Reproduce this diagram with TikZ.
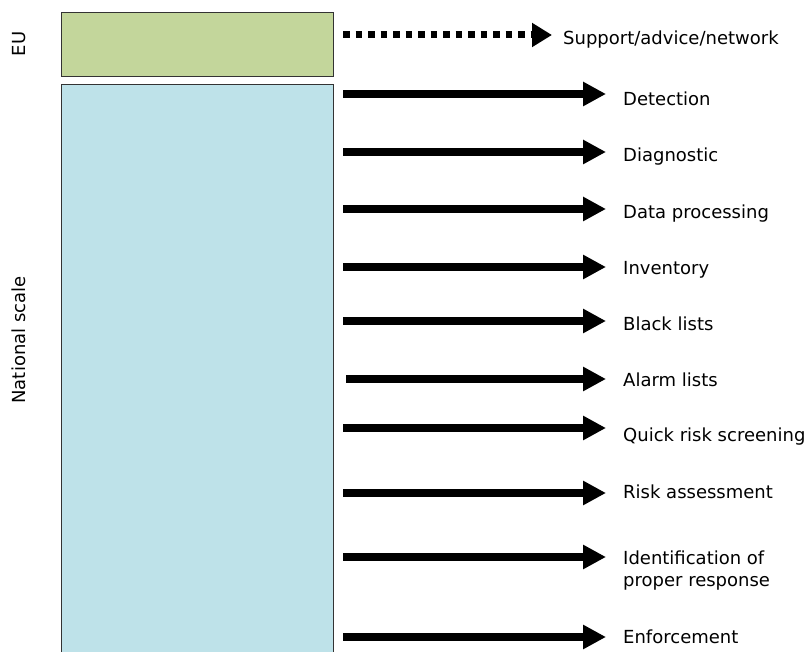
\documentclass[tikz,border=0pt]{standalone}
\usepackage{fontspec}
\setmainfont{DejaVu Sans}
\usetikzlibrary{arrows.meta}

\definecolor{eugreen}{HTML}{C3D69B}
\definecolor{natblue}{HTML}{BEE2E9}

\tikzset{
    scalebox/.style={draw=black!80, line width=1pt, anchor=north west, inner sep=0pt},
    lab/.style={anchor=base west, inner sep=0pt, font=\fontsize{18}{22}\selectfont},
    side/.style={rotate=90, inner sep=0pt, font=\fontsize{18}{22}\selectfont},
    bigarrow/.style={line width=8pt, -{Triangle[length=23pt,width=23pt]}},
    dotarrow/.style={line width=7pt, dash pattern=on 6.5pt off 6pt, -{Triangle[length=20pt,width=23pt]}}
}

\begin{document}
\begin{tikzpicture}[x=1pt,y=-1pt]

            \useasboundingbox (0,0) rectangle (812,652);

            \node[scalebox, fill=eugreen, minimum width=272pt, minimum height=64pt] (eu) at (61,12) {};
            \node[scalebox, fill=natblue, minimum width=272pt, minimum height=590pt] (nat) at (61,84) {};

            \node[side] (eulab) at (19,44) {EU};
            \node[side] (natlab) at (19,340) {National scale};

            % EU level
            \node[lab] (sup) at (563,44.5) {Support/advice/network};
            \coordinate (t0) at (552,35);
            \draw[dotarrow] ([xshift=9pt]eu.east |- t0) -- (t0);

            % national level
            \foreach \i/\ya/\yt/\sx/\txt in {1/94/105.5/9/Detection, 2/152/161.5/9/Diagnostic,
                    3/209/218.5/9/Data processing, 4/267/274.5/9/Inventory,
                    5/321/330.5/9/Black lists, 6/379/386.5/12/Alarm lists,
                    7/428/441.5/9/Quick risk screening, 8/493/498.5/9/Risk assessment,
                    9/557/564.5/9/{\begin{tabular}[t]{@{}l@{}}Identification of\\proper response\end{tabular}},
                    10/637/643.5/9/Enforcement}
            {
                \node[lab] (l\i) at (623,\yt) {\txt};
                \coordinate (t\i) at (606,\ya);
                \draw[bigarrow] ([xshift=\sx pt]nat.east |- t\i) -- (t\i);
            }

\end{tikzpicture}
\end{document}
